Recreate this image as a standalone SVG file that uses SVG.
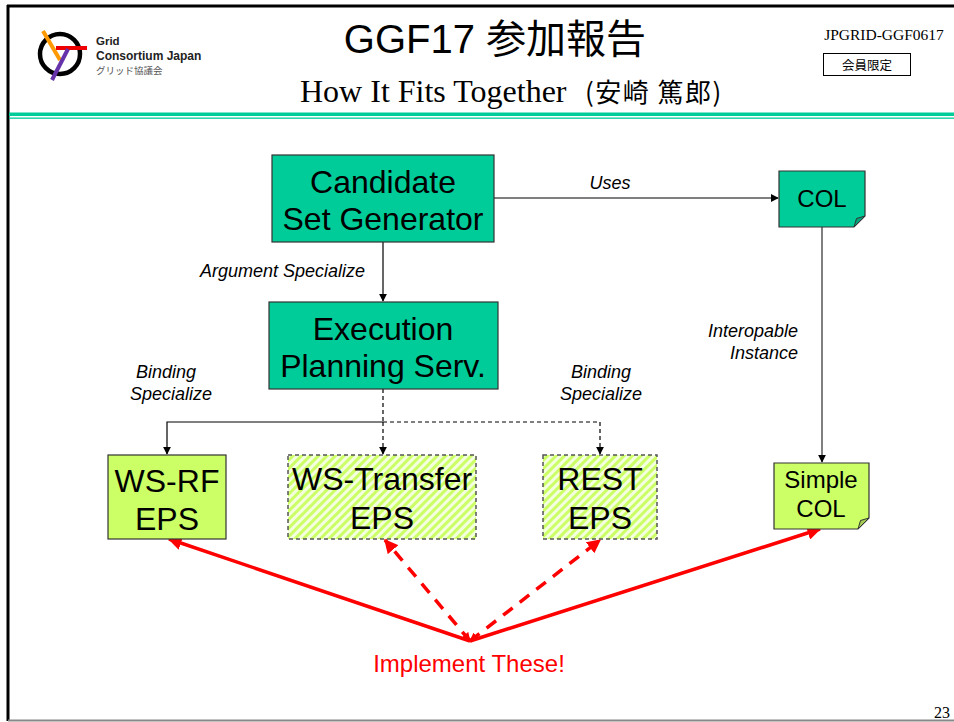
<svg xmlns="http://www.w3.org/2000/svg" width="954" height="722" viewBox="0 0 954 722">
<style>
.sans{font-family:"Liberation Sans",Arial,"Noto Sans CJK JP",sans-serif;}
.serif{font-family:"Liberation Serif","Times New Roman","Noto Sans CJK JP",serif;}
.big{font-size:32px;fill:#000;text-anchor:middle;}
.lbl{font-size:18px;font-style:italic;fill:#000;}
.teal{fill:#00CC99;stroke:#333;stroke-width:1.2;}
.lime{fill:#CCFF66;stroke:#333;stroke-width:1.2;}
.hatch{fill:url(#hatch);stroke:#555;stroke-width:1.5;stroke-dasharray:4 3;}
.blk{stroke:#000;stroke-width:1.2;fill:none;}
.blkd{stroke:#000;stroke-width:1.2;fill:none;stroke-dasharray:4 3;}
.red{stroke:#FF0000;stroke-width:3.5;fill:none;}
.redd{stroke:#FF0000;stroke-width:3.5;fill:none;stroke-dasharray:12 9;}
</style>
<defs>
<pattern id="hatch" width="6" height="6" patternUnits="userSpaceOnUse" patternTransform="rotate(45)">
<rect width="6" height="6" fill="#F4FFE0"/>
<rect width="3" height="6" fill="#CCFF66"/>
</pattern>
<marker id="ah" viewBox="0 0 10 10" refX="9" refY="5" markerWidth="8" markerHeight="8" markerUnits="userSpaceOnUse" orient="auto">
<path d="M0,0 L10,5 L0,10 Z" fill="#000"/>
</marker>
<marker id="ahr" viewBox="0 0 10 10" refX="9" refY="5" markerWidth="14" markerHeight="14" markerUnits="userSpaceOnUse" orient="auto">
<path d="M0,0 L10,5 L0,10 Z" fill="#FF0000"/>
</marker>
<marker id="ahrs" viewBox="0 0 10 10" refX="9" refY="5" markerWidth="9" markerHeight="9" markerUnits="userSpaceOnUse" orient="auto-start-reverse">
<path d="M0,0 L10,5 L0,10 Z" fill="#FF0000"/>
</marker>
</defs>
<rect width="954" height="722" fill="#fff"/>
<!-- slide frame -->
<g id="frame">
<line x1="8" y1="5" x2="8" y2="721" stroke="#000" stroke-width="3"/>
<line x1="7" y1="6" x2="954" y2="6" stroke="#000" stroke-width="3"/>
<line x1="8" y1="720.5" x2="954" y2="720.5" stroke="#888" stroke-width="2"/>
<rect x="9" y="112.5" width="945" height="3.5" fill="#00CC99"/>
<rect x="9" y="117.5" width="945" height="1.3" fill="#00CC99"/>
</g>
<!-- header -->
<g id="logo">
<circle cx="60" cy="54" r="20" fill="none" stroke="#000" stroke-width="4.5"/>
<line x1="43" y1="31" x2="60" y2="60" stroke="#FF9900" stroke-width="4"/>
<line x1="56" y1="48" x2="87" y2="48" stroke="#EE0000" stroke-width="4"/>
<line x1="68" y1="49" x2="52" y2="80" stroke="#6633AA" stroke-width="4"/>
<text class="sans" x="96" y="45" font-size="11.5" font-weight="bold" fill="#222">Grid</text>
<text class="sans" x="96" y="59.5" font-size="12" font-weight="bold" fill="#222">Consortium Japan</text>
<text x="96" y="74" font-size="9.5" fill="#555" font-family="'Noto Sans CJK JP',sans-serif">グリッド協議会</text>
</g>
<g id="title">
<text class="sans" x="495" y="53" font-size="40" text-anchor="middle" fill="#000">GGF17 参加報告</text>
<text class="serif" x="300" y="102" font-size="32" fill="#000">How It Fits Together</text>
<text x="585" y="102" font-size="26" letter-spacing="1.5" fill="#000" font-family="'Noto Sans CJK JP',sans-serif">(安崎 篤郎)</text>
<text class="serif" x="884" y="40" font-size="15.5" text-anchor="middle" fill="#000">JPGRID-GGF0617</text>
<rect x="823.5" y="53.5" width="87" height="22" fill="#fff" stroke="#000" stroke-width="1"/>
<text x="867" y="70" font-size="12.5" text-anchor="middle" fill="#000" font-family="'Noto Sans CJK JP',sans-serif">会員限定</text>
</g>
<!-- connectors -->
<g id="connectors">
<line class="blk" x1="383" y1="242" x2="383" y2="301" marker-end="url(#ah)"/>
<line class="blk" x1="494" y1="198" x2="778" y2="198" marker-end="url(#ah)"/>
<line x1="822" y1="227" x2="822" y2="462" stroke="#808080" stroke-width="2" marker-end="url(#ah)"/>
<line class="blkd" x1="383" y1="389" x2="383" y2="422"/>
<path class="blk" d="M383,422 H167 V454" marker-end="url(#ah)"/>
<path class="blkd" d="M383,422 V454" marker-end="url(#ah)"/>
<path class="blkd" d="M383,422 H600 V454" marker-end="url(#ah)"/>
<line class="red" x1="470" y1="641" x2="169" y2="539" marker-end="url(#ahr)"/>
<line class="red" x1="470" y1="641" x2="820" y2="529" marker-end="url(#ahr)"/>
<line class="redd" x1="470" y1="641" x2="385" y2="540" marker-start="url(#ahrs)" marker-end="url(#ahr)"/>
<line class="redd" x1="470" y1="641" x2="600" y2="540" marker-start="url(#ahrs)" marker-end="url(#ahr)"/>
</g>
<!-- labels -->
<g id="labels" class="sans">
<text class="sans lbl" x="365" y="277" text-anchor="end" font-size="18.5">Argument Specialize</text>
<text class="sans lbl" x="610" y="189" text-anchor="middle">Uses</text>
<text class="sans lbl" x="798" y="337" text-anchor="end">Interopable</text>
<text class="sans lbl" x="798" y="359" text-anchor="end">Instance</text>
<text class="sans lbl" x="166" y="378" text-anchor="middle">Binding</text>
<text class="sans lbl" x="171" y="400" text-anchor="middle">Specialize</text>
<text class="sans lbl" x="601" y="378" text-anchor="middle">Binding</text>
<text class="sans lbl" x="601" y="400" text-anchor="middle">Specialize</text>
<text class="sans" x="469" y="672" font-size="24" fill="#FF0000" text-anchor="middle">Implement These!</text>
</g>
<!-- nodes -->
<g id="csg">
<rect class="teal" x="272" y="155" width="222" height="87"/>
<text class="sans big" x="383" y="193">Candidate</text>
<text class="sans big" x="383" y="230">Set Generator</text>
</g>
<g id="eps">
<rect class="teal" x="269" y="302" width="229" height="87"/>
<text class="sans big" x="383" y="340">Execution</text>
<text class="sans big" x="383" y="377">Planning Serv.</text>
</g>
<g id="col">
<path class="teal" d="M779,171 H865 V216 L854,227 H779 Z"/>
<path d="M854,227 L856.5,218.5 L865,216 Z" fill="#00A37A" stroke="#333" stroke-width="1"/>
<text class="sans" x="822" y="207" font-size="24" text-anchor="middle" fill="#000">COL</text>
</g>
<g id="wsrf">
<rect class="lime" x="108" y="455" width="118" height="84"/>
<text class="sans big" x="167" y="492">WS-RF</text>
<text class="sans big" x="167" y="530">EPS</text>
</g>
<g id="wstransfer">
<rect class="hatch" x="288" y="455" width="188" height="84"/>
<text class="sans big" x="382" y="490">WS-Transfer</text>
<text class="sans big" x="382" y="529">EPS</text>
</g>
<g id="rest">
<rect class="hatch" x="543" y="455" width="114" height="84"/>
<text class="sans big" x="600" y="490">REST</text>
<text class="sans big" x="600" y="529">EPS</text>
</g>
<g id="simplecol">
<path class="lime" d="M774,463 H869 V518 L858,529 H774 Z"/>
<path d="M858,529 L860.5,520.5 L869,518 Z" fill="#A3CC52" stroke="#333" stroke-width="1"/>
<text class="sans" x="821" y="488" font-size="24" text-anchor="middle" fill="#000">Simple</text>
<text class="sans" x="821" y="517" font-size="24" text-anchor="middle" fill="#000">COL</text>
</g>
<text class="serif" x="934" y="718" font-size="16" fill="#000">23</text>
</svg>
